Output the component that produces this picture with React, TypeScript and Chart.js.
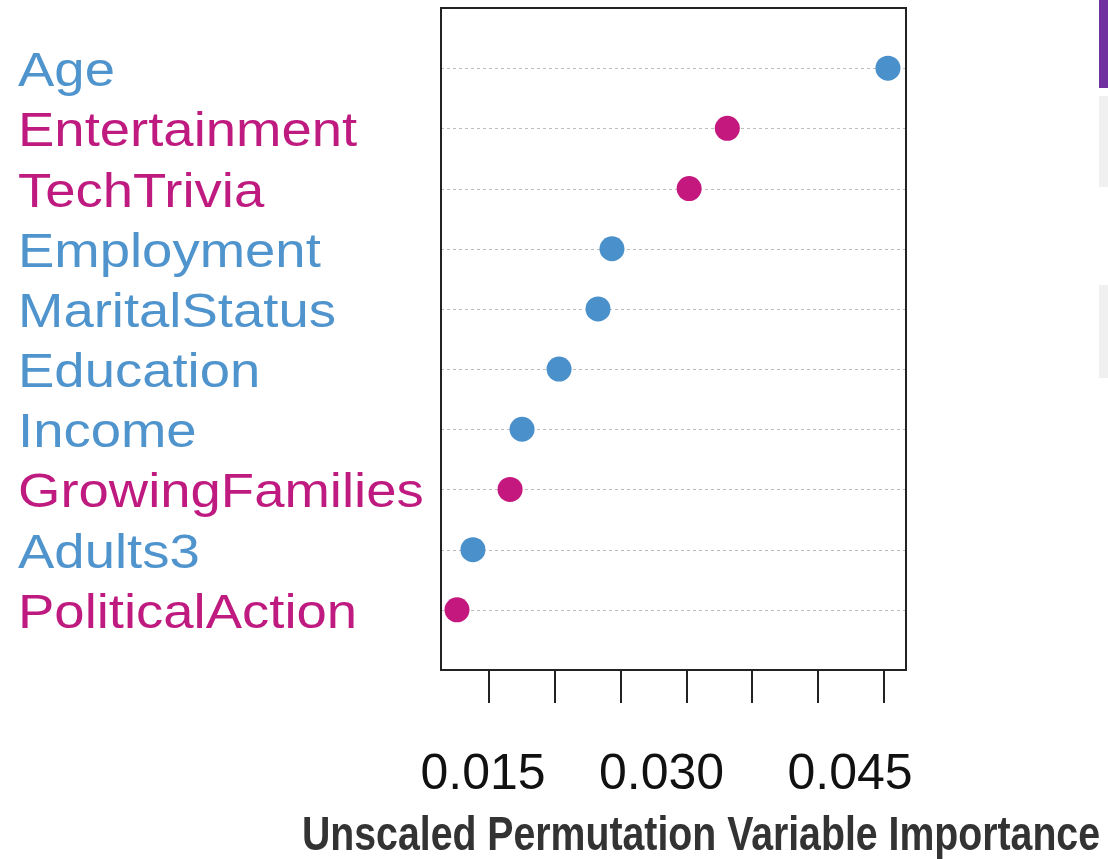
import React, { useEffect, useRef } from "react";
import { Chart, registerables } from "chart.js";

Chart.register(...registerables);

const categories = [
  "Age",
  "Entertainment",
  "TechTrivia",
  "Employment",
  "MaritalStatus",
  "Education",
  "Income",
  "GrowingFamilies",
  "Adults3",
  "PoliticalAction",
];
const importance = [0.0453, 0.0331, 0.0302, 0.02434, 0.02328, 0.02032, 0.01751, 0.0166, 0.01378, 0.01257];
const groups = ["blue", "magenta", "magenta", "blue", "blue", "blue", "blue", "magenta", "blue", "magenta"];
const xTicks = [0.015, 0.02, 0.025, 0.03, 0.035, 0.04, 0.045];
const xTickLabels = ["0.015", "", "", "0.030", "", "", "0.045"];
const xTickLabelShift = [-6, 0, 0, -25, 0, 0, -34];
const axisTitle = "Unscaled Permutation Variable Importance";

const pointColors: Record<string, string> = { blue: "#4a90cb", magenta: "#c5187e" };
const labelColors: Record<string, string> = { blue: "#4f94cd", magenta: "#bf1a7f" };

const drawPlugin = {
  id: "rDotPlot",
  beforeDatasetsDraw(chart: any) {
    const ctx = chart.ctx;
    const { left, right } = chart.chartArea;
    const ys = chart.scales.y;
    ctx.save();
    ctx.strokeStyle = "#bdbdbd";
    ctx.lineWidth = 1;
    ctx.setLineDash([3, 3]);
    categories.forEach((_, i) => {
      const y = Math.round(ys.getPixelForValue(i + 1)) + 0.5;
      ctx.beginPath();
      ctx.moveTo(left, y);
      ctx.lineTo(right, y);
      ctx.stroke();
    });
    ctx.restore();
  },
  afterDraw(chart: any) {
    const ctx = chart.ctx;
    const { left, right, top, bottom } = chart.chartArea;
    const xs = chart.scales.x;
    const ys = chart.scales.y;
    ctx.save();
    // box
    ctx.strokeStyle = "#222";
    ctx.lineWidth = 2;
    ctx.setLineDash([]);
    ctx.strokeRect(left, top, right - left, bottom - top);
    // ticks
    xTicks.forEach((v) => {
      const x = Math.round(xs.getPixelForValue(v));
      ctx.beginPath();
      ctx.moveTo(x, bottom);
      ctx.lineTo(x, bottom + 33);
      ctx.stroke();
    });
    // tick labels
    ctx.fillStyle = "#111";
    ctx.font = '50px "Liberation Sans", Arial, sans-serif';
    ctx.textAlign = "center";
    ctx.textBaseline = "alphabetic";
    xTicks.forEach((v, i) => {
      if (!xTickLabels[i]) return;
      const x = xs.getPixelForValue(v) + xTickLabelShift[i];
      ctx.fillText(xTickLabels[i], x, bottom + 119);
    });
    // category labels
    ctx.font = '48px "Liberation Sans", Arial, sans-serif';
    ctx.textAlign = "left";
    categories.forEach((c, i) => {
      const y = ys.getPixelForValue(i + 1);
      ctx.fillStyle = labelColors[groups[i]];
      ctx.save();
      ctx.translate(18, y + 18);
      ctx.scale(1.135, 1);
      ctx.fillText(c, 0, 0);
      ctx.restore();
    });
    // axis title
    ctx.font = 'bold 48px "Liberation Sans", Arial, sans-serif';
    ctx.fillStyle = "#333";
    const w = ctx.measureText(axisTitle).width;
    const sx = 798 / w;
    ctx.save();
    ctx.translate(701, 850);
    ctx.scale(sx, 1);
    ctx.textAlign = "center";
    ctx.fillText(axisTitle, 0, 0);
    ctx.restore();
    ctx.restore();
  },
};

export default function App() {
  const ref = useRef<HTMLCanvasElement | null>(null);
  useEffect(() => {
    if (!ref.current) return;
    const chart = new Chart(ref.current, {
      type: "scatter",
      data: {
        datasets: [
          {
            data: importance.map((v, i) => ({ x: v, y: i + 1 })),
            pointRadius: 12.5,
            pointHoverRadius: 12.5,
            pointBorderWidth: 0,
            pointBackgroundColor: groups.map((g) => pointColors[g]),
            pointBorderColor: groups.map((g) => pointColors[g]),
          },
        ],
      },
      options: {
        responsive: false,
        animation: false,
        devicePixelRatio: 1,
        layout: { autoPadding: false, padding: { left: 441, top: 8, right: 202, bottom: 189 } },
        plugins: { legend: { display: false }, tooltip: { enabled: false } },
        scales: {
          x: { type: "linear", display: false, min: 0.011354, max: 0.046671 },
          y: { type: "linear", display: false, min: 0, max: 11, reverse: true },
        },
      },
      plugins: [drawPlugin],
    });
    return () => chart.destroy();
  }, []);
  return (
    <div style={{ position: "absolute", left: 0, top: 0, width: 1108, height: 859, background: "#fff", overflow: "hidden" }}>
      <canvas ref={ref} width={1108} height={859} style={{ display: "block" }} />
      <div style={{ position: "absolute", left: 1099, top: 0, width: 9, height: 88, background: "#7030a0" }} />
      <div style={{ position: "absolute", left: 1099, top: 96, width: 9, height: 91, background: "#f0f0f0" }} />
      <div style={{ position: "absolute", left: 1099, top: 285, width: 9, height: 93, background: "#f0f0f0" }} />
    </div>
  );
}
